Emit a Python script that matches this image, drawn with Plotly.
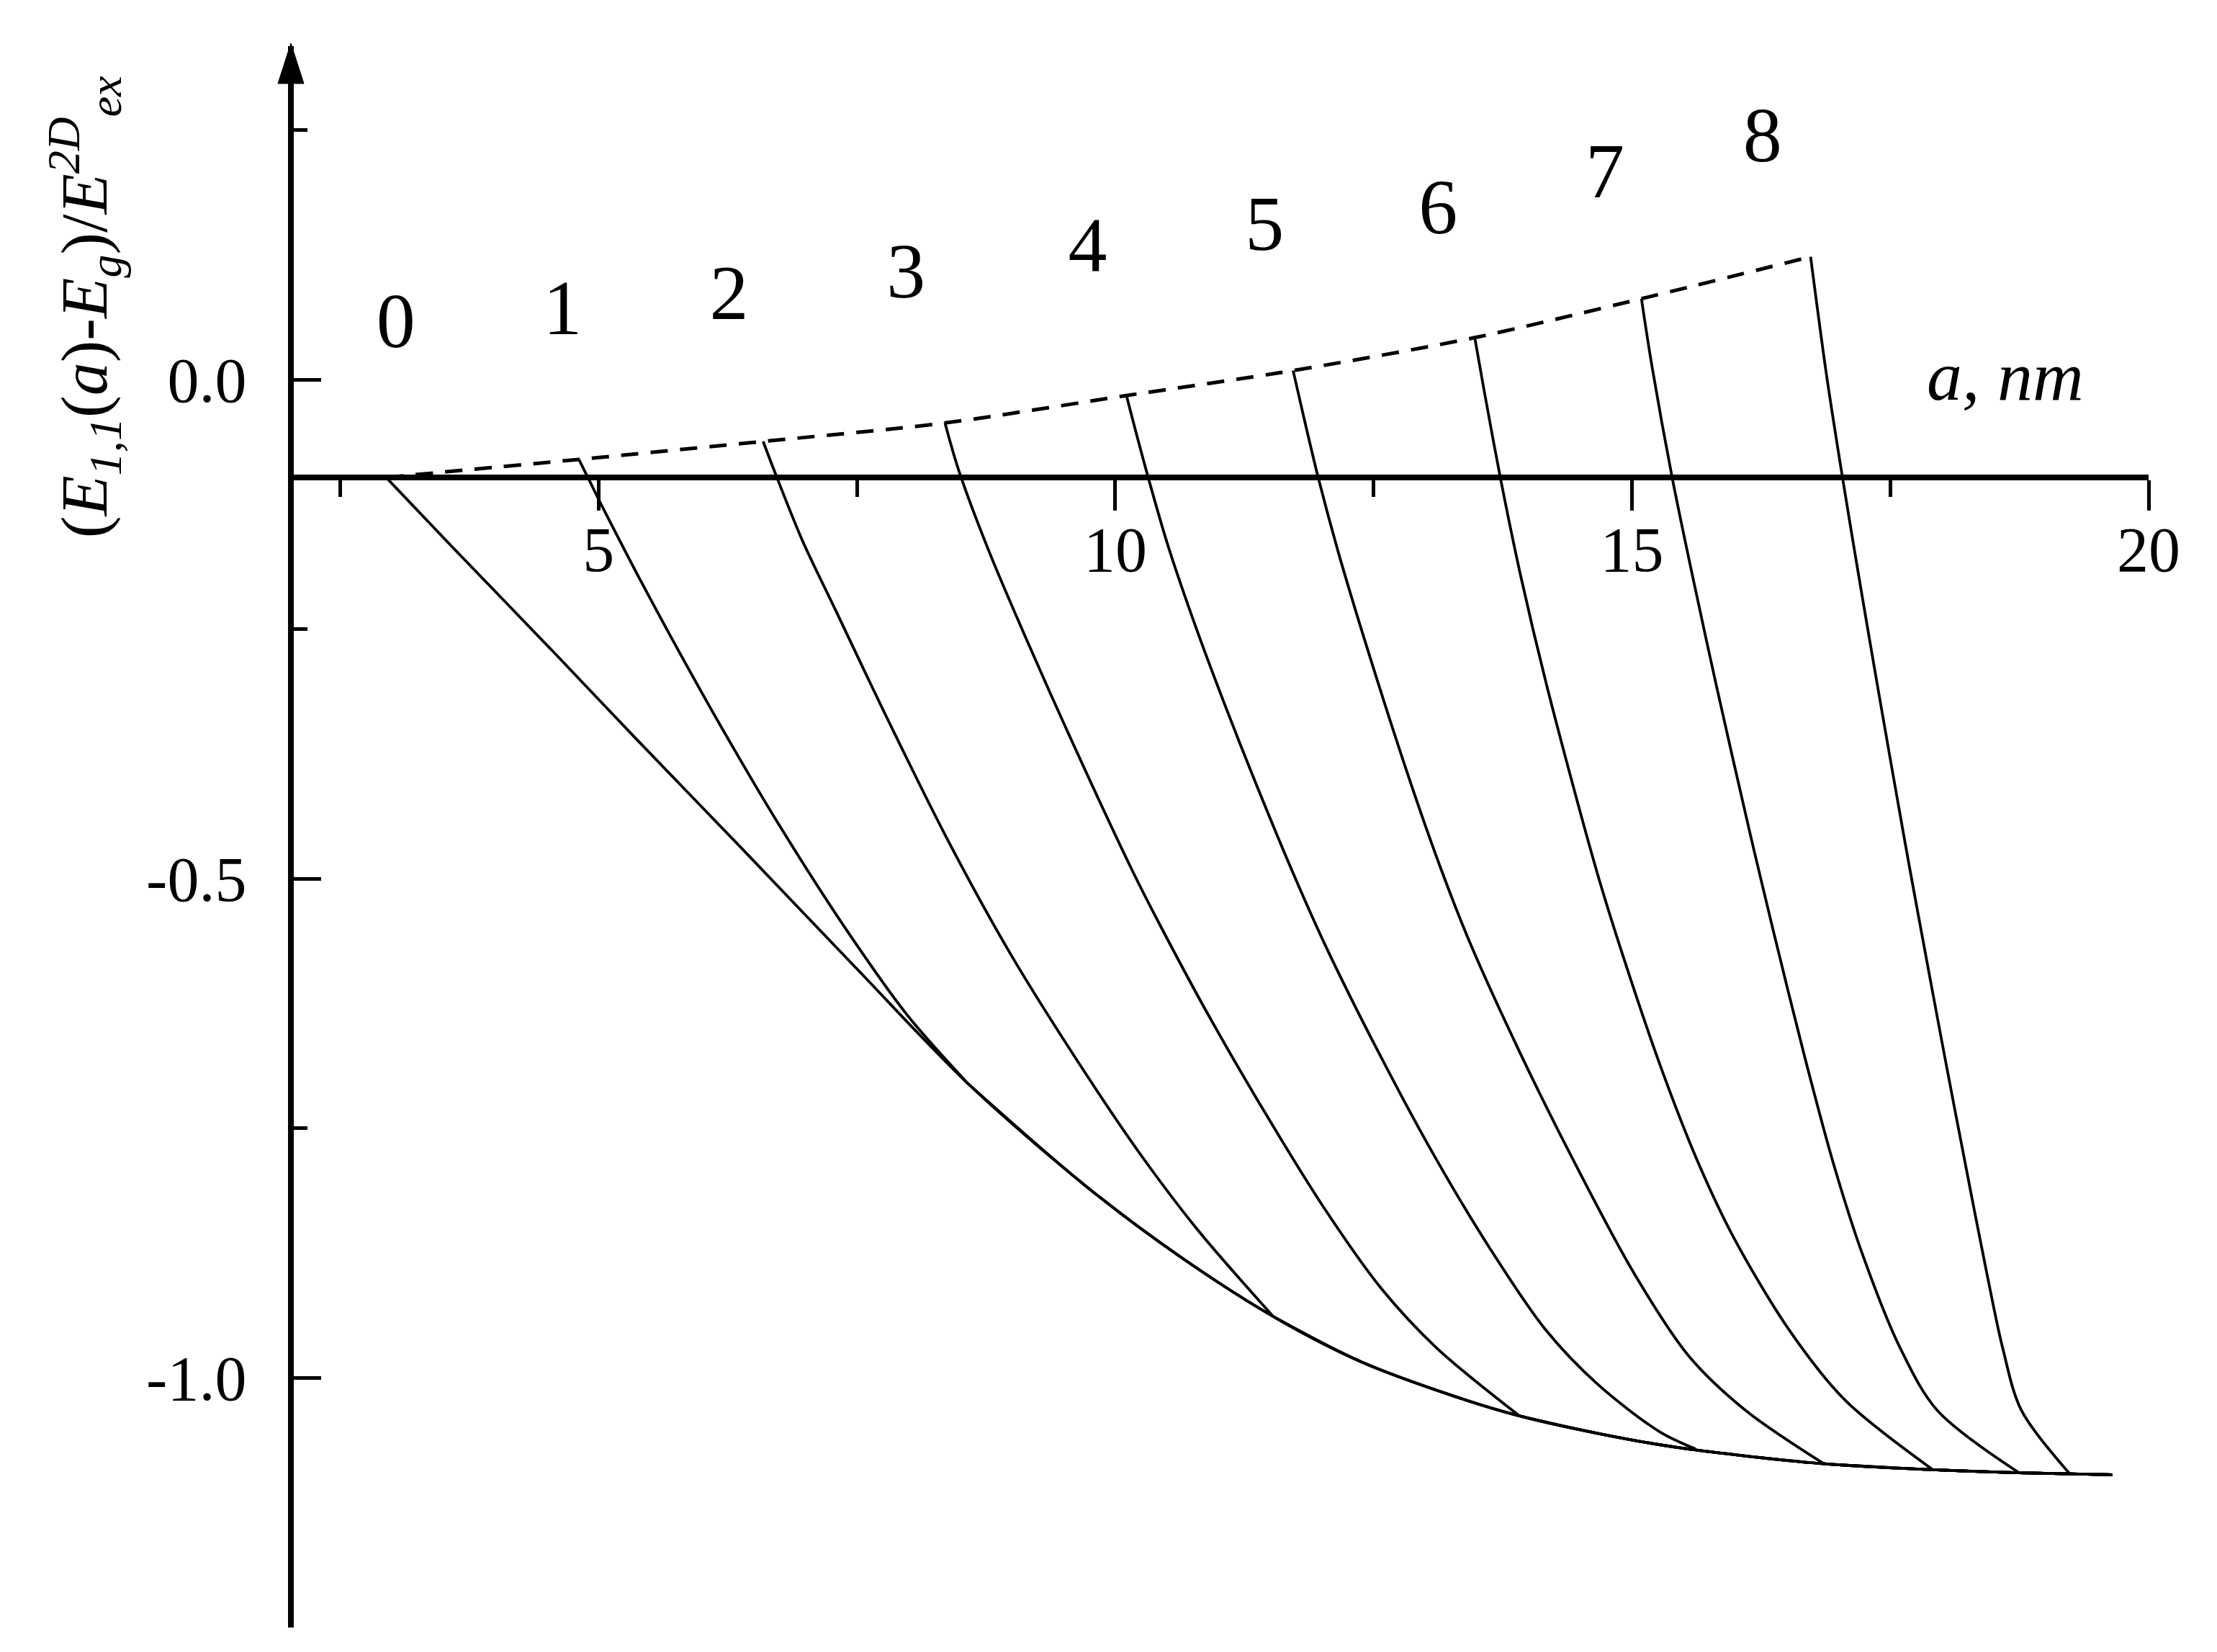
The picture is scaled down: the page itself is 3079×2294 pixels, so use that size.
import plotly.graph_objects as go

# ---- data ----
x_range = [2.05, 20.0]
y_range = [-1.25, 0.334]
x_axis_at = -0.098          # the a-axis crosses the ordinate here

x_tickvals = [5, 10, 15, 20]
x_ticktext = ["5", "10", "15", "20"]
x_minor = [2.5, 7.5, 12.5, 17.5]
y_tickvals = [0.0, -0.5, -1.0]
y_ticktext = ["0.0", "-0.5", "-1.0"]
y_minor = [0.25, -0.25, -0.75, -1.25]

# curve 0 (lower envelope, every other curve ends on it)
env_x = [2.943, 3.587, 4.565, 5.346, 6.324, 7.497, 8.572, 9.717, 10.606, 11.529,
         12.383, 13.271, 13.911, 14.692, 15.460, 16.858, 17.913, 18.746, 19.650]
env_y = [-0.098, -0.168, -0.273, -0.358, -0.463, -0.590, -0.705, -0.808, -0.877, -0.9385,
         -0.984, -1.018, -1.038, -1.056, -1.070, -1.086, -1.092, -1.095, -1.097]

# curves 1..8, from the dashed line down to where they meet the envelope
c1_x = [4.809, 4.905, 5.051, 5.379, 5.696, 6.187, 6.734, 7.397, 7.990, 8.572]
c1_y = [-0.080, -0.100, -0.1305, -0.196, -0.257, -0.348, -0.444, -0.551, -0.637, -0.705]

c2_x = [6.592, 6.714, 6.971, 7.298, 7.763, 8.373, 8.990, 9.700, 10.250, 10.800, 11.529]
c2_y = [-0.062, -0.095, -0.161, -0.232, -0.333, -0.460, -0.576, -0.693, -0.777, -0.852, -0.9385]

c3_x = [8.352, 8.482, 8.774, 9.106, 9.540, 10.161, 10.431, 10.909, 11.424, 12.048, 12.579, 13.110, 13.911]
c3_y = [-0.0435, -0.090, -0.171, -0.252, -0.353, -0.491, -0.546, -0.638, -0.730, -0.834, -0.911, -0.970, -1.038]

c4_x = [10.108, 10.178, 10.321, 10.509, 10.776, 11.048, 11.335, 11.707, 12.025, 12.536,
        13.090, 13.624, 14.159, 14.670, 15.270, 15.614]
c4_y = [-0.016, -0.044, -0.099, -0.166, -0.247, -0.3225, -0.398, -0.491, -0.565, -0.6715,
        -0.778, -0.870, -0.951, -1.0065, -1.054, -1.071]

c5_x = [11.721, 11.816, 11.966, 12.153, 12.402, 12.839, 13.155, 13.436, 13.920, 14.453,
        15.025, 15.550, 16.100, 16.858]
c5_y = [0.009, -0.034, -0.099, -0.171, -0.257, -0.398, -0.491, -0.565, -0.675, -0.786,
        -0.896, -0.978, -1.0325, -1.086]

c6_x = [13.479, 13.566, 13.728, 13.922, 14.177, 14.655, 14.922, 15.300, 15.648, 15.988,
        16.522, 17.060, 17.913]
c6_y = [0.042, -0.009, -0.099, -0.196, -0.307, -0.491, -0.580, -0.6945, -0.786, -0.860,
        -0.952, -1.022, -1.092]

c7_x = [15.092, 15.188, 15.391, 15.585, 15.818, 16.144, 16.356, 16.666, 16.952, 17.239,
        17.598, 17.955, 18.746]
c7_y = [0.081, 0.017, -0.099, -0.196, -0.307, -0.455, -0.547, -0.676, -0.786, -0.8785,
        -0.9705, -1.0325, -1.095]

c8_x = [16.729, 16.881, 17.039, 17.210, 17.386, 17.628, 17.758, 18.023, 18.227, 18.438,
        18.589, 18.769, 19.237]
c8_y = [0.123, 0.006, -0.099, -0.206, -0.3125, -0.455, -0.529, -0.676, -0.786, -0.897,
        -0.9705, -1.0325, -1.096]

# dashed line joining the upper ends of the curves
dash_x = [2.943, 4.809, 6.592, 8.352, 10.108, 11.721, 13.479, 15.092, 16.729]
dash_y = [-0.098, -0.080, -0.062, -0.0435, -0.016, 0.009, 0.042, 0.081, 0.123]

# curve numbers
label_text = ["0", "1", "2", "3", "4", "5", "6", "7", "8"]
label_x = [3.037, 4.650, 6.263, 7.974, 9.733, 11.445, 13.125, 14.739, 16.263]
label_y = [0.052, 0.065, 0.080, 0.102, 0.128, 0.149, 0.166, 0.202, 0.238]

SERIF = "Liberation Serif"
branches = [(c1_x, c1_y), (c2_x, c2_y), (c3_x, c3_y), (c4_x, c4_y),
            (c5_x, c5_y), (c6_x, c6_y), (c7_x, c7_y), (c8_x, c8_y)]

fig = go.Figure()

line_style = dict(color="black", width=3.8, shape="spline", smoothing=0.9)
fig.add_trace(go.Scatter(x=env_x, y=env_y, mode="lines", line=line_style, showlegend=False))
for bx, by in branches:
    fig.add_trace(go.Scatter(x=bx, y=by, mode="lines", line=line_style, showlegend=False))
    # after touching the envelope each curve runs on along it (overdrawn, so it looks heavier)
    tail = [(ex, ey) for ex, ey in zip(env_x, env_y) if ex >= bx[-1] - 0.05]
    if len(tail) > 1:
        fig.add_trace(go.Scatter(x=[t[0] for t in tail], y=[t[1] for t in tail],
                                 mode="lines", line=line_style, showlegend=False))

fig.add_trace(go.Scatter(x=dash_x, y=dash_y, mode="lines", showlegend=False,
                         line=dict(color="black", width=5, dash="24px,17px",
                                   shape="spline", smoothing=0.8)))

fig.add_trace(go.Scatter(x=label_x, y=label_y, mode="text", text=label_text,
                         textposition="middle center", showlegend=False,
                         textfont=dict(family=SERIF, size=108, color="black")))

x_pos = (x_axis_at - y_range[0]) / (y_range[1] - y_range[0])

fig.update_xaxes(range=x_range, anchor="free", position=x_pos, side="bottom",
                 showline=True, linecolor="black", linewidth=8,
                 showgrid=False, zeroline=False,
                 ticks="outside", ticklen=42, tickwidth=5, tickcolor="black",
                 tickmode="array", tickvals=x_tickvals, ticktext=x_ticktext,
                 tickfont=dict(family=SERIF, size=88, color="black"),
                 ticklabelstandoff=-22,
                 minor=dict(tickmode="array", tickvals=x_minor, ticks="outside",
                            ticklen=23, tickwidth=5, tickcolor="black"))

fig.update_yaxes(range=y_range, showline=True, linecolor="black", linewidth=8,
                 showgrid=False, zeroline=False,
                 ticks="inside", ticklen=38, tickwidth=5, tickcolor="black",
                 tickmode="array", tickvals=y_tickvals, ticktext=y_ticktext,
                 tickfont=dict(family=SERIF, size=88, color="black"),
                 ticklabelstandoff=40,
                 minor=dict(tickmode="array", tickvals=y_minor, ticks="inside",
                            ticklen=19, tickwidth=5, tickcolor="black"))

# arrow head on top of the ordinate (paper-referenced so it is not clipped)
fig.add_shape(type="path", xref="paper", yref="paper", xsizemode="pixel", ysizemode="pixel",
              xanchor=0, yanchor=1,
              path="M -4,4 L -22,-52 L 14,-52 Z",
              fillcolor="black", line=dict(color="black", width=1))

fig.add_annotation(x=18.61, y=0.004, xref="x", yref="y", showarrow=False,
                   text="<i>a, nm</i>", xanchor="center", yanchor="middle",
                   font=dict(family=SERIF, size=98, color="black"))

fig.add_annotation(x=-0.113, y=0.835, xref="paper", yref="paper", showarrow=False,
                   textangle=-90, xanchor="center", yanchor="middle",
                   text="(<i>E</i><sub><i>1,1</i></sub>(<i>a</i>)-<i>E</i><sub><i>g</i></sub>)"
                        "/<i>E</i><sup><i>2D</i></sup><sub><i>ex</i></sub>",
                   font=dict(family=SERIF, size=92, color="black"))

fig.update_layout(width=3079, height=2294,
                  margin=dict(l=400, r=103, t=56, b=42),
                  paper_bgcolor="white", plot_bgcolor="white",
                  font=dict(family=SERIF, color="black"),
                  showlegend=False)

fig.write_html("out.html")
